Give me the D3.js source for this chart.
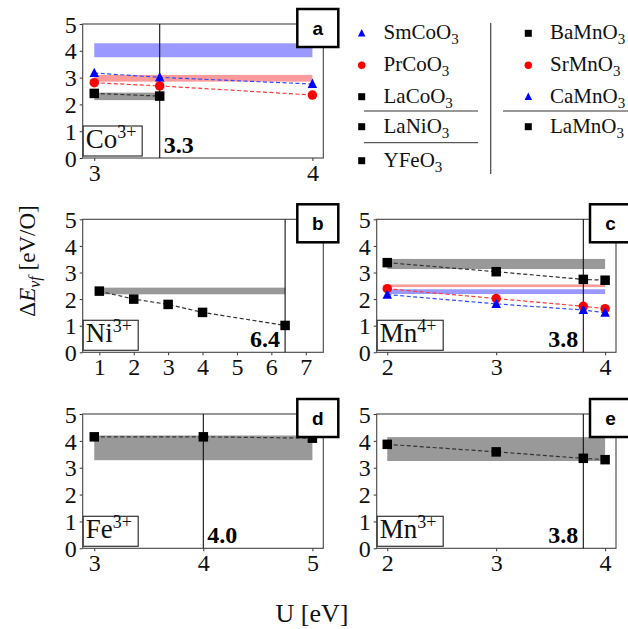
<!DOCTYPE html>
<html>
<head>
<meta charset="utf-8">
<script src="https://cdn.jsdelivr.net/npm/d3@7"></script>
<style>
  html, body { margin: 0; padding: 0; background: #fff; }
  svg { display: block; }
</style>
</head>
<body>
<svg id="chart" width="628" height="629"></svg>
<script>
// ---------------- DATA ----------------
const panelLetters = ["a", "b", "c", "d", "e"];
const ionBase = ["Co", "Ni", "Mn", "Fe", "Mn"];
const ionCharge = ["3+", "3+", "4+", "3+", "3+"];
const optimalU = [3.3, 6.4, 3.8, 4.0, 3.8];
const yTicks = [0, 1, 2, 3, 4, 5];

// panel a (Co3+)
const xTicksA = [3, 4];
const uSmCoO3 = [3, 3.3, 4];
const smCoO3 = [3.17, 3.01, 2.76];
const uPrCoO3 = [3, 3.3, 4];
const prCoO3 = [2.81, 2.69, 2.35];
const uLaCoO3 = [3, 3.3];
const laCoO3 = [2.41, 2.31];
const bandSmCoO3 = [3.76, 4.28];
const bandPrCoO3 = [2.85, 3.10];
const bandLaCoO3 = [2.16, 2.44];

// panel b (Ni3+)
const xTicksB = [1, 2, 3, 4, 5, 6, 7];
const uLaNiO3 = [1, 2, 3, 4, 6.4];
const laNiO3 = [2.30, 2.00, 1.80, 1.50, 1.01];
const bandLaNiO3 = [2.18, 2.43];

// panel c (Mn4+)
const xTicksC = [2, 3, 4];
const uMn4 = [2, 3, 3.8, 4];
const baMnO3 = [3.37, 3.03, 2.74, 2.71];
const srMnO3 = [2.39, 2.02, 1.73, 1.64];
const caMnO3 = [2.17, 1.82, 1.59, 1.49];
const bandBaMnO3 = [3.13, 3.51];
const bandSrMnO3 = [2.45, 2.55];
const bandCaMnO3 = [2.19, 2.37];

// panel d (Fe3+)
const xTicksD = [3, 4, 5];
const uYFeO3 = [3, 4, 5];
const yFeO3 = [4.15, 4.15, 4.10];
const bandYFeO3 = [3.28, 4.20];

// panel e (Mn3+)
const xTicksE = [2, 3, 4];
const uLaMnO3 = [2, 3, 3.8, 4];
const laMnO3 = [3.87, 3.59, 3.35, 3.30];
const bandLaMnO3 = [3.25, 4.14];

// legend
const legendCol1 = ["SmCoO", "PrCoO", "LaCoO", "LaNiO", "YFeO"];
const legendCol1Marker = ["tri", "circ", "sq", "sq", "sq"];
const legendCol2 = ["BaMnO", "SrMnO", "CaMnO", "LaMnO"];
const legendCol2Marker = ["sq", "circ", "tri", "sq"];

// ---------------- STYLE ----------------
const COL = { blue: "#0000ff", red: "#ff0000", black: "#000000" };
const BAND = { blue: "#9999ff", red: "#ff9a9a", black: "#999999" };
const LINE = { blue: "#2f4cff", red: "#ff3b3b", black: "#333333" };
const SERIF = "'Liberation Serif', 'Times New Roman', serif";

const svg = d3.select("#chart");

// panel geometry (frame pixel box) and x-domain of the frame
const layouts = [
  { L: 82.7, R: 323.3, T: 24, B: 158, xd: [2.947, 4.05], ticks: xTicksA },
  { L: 82.7, R: 323.3, T: 219.3, B: 352.3, xd: [0.517, 7.51], ticks: xTicksB },
  { L: 376.7, R: 616, T: 219.3, B: 352.3, xd: [1.903, 4.10], ticks: xTicksC },
  { L: 82.7, R: 323.3, T: 414, B: 548.3, xd: [2.894, 5.10], ticks: xTicksD },
  { L: 376.7, R: 616, T: 414, B: 548.3, xd: [1.903, 4.10], ticks: xTicksE }
];

const panelSeries = [
  [
    { u: uLaCoO3, v: laCoO3, band: bandLaCoO3, c: "black", m: "sq" },
    { u: uPrCoO3, v: prCoO3, band: bandPrCoO3, c: "red", m: "circ" },
    { u: uSmCoO3, v: smCoO3, band: bandSmCoO3, c: "blue", m: "tri" }
  ],
  [
    { u: uLaNiO3, v: laNiO3, band: bandLaNiO3, c: "black", m: "sq" }
  ],
  [
    { u: uMn4, v: baMnO3, band: bandBaMnO3, c: "black", m: "sq" },
    { u: uMn4, v: srMnO3, band: bandSrMnO3, c: "red", m: "circ" },
    { u: uMn4, v: caMnO3, band: bandCaMnO3, c: "blue", m: "tri" }
  ],
  [
    { u: uYFeO3, v: yFeO3, band: bandYFeO3, c: "black", m: "sq" }
  ],
  [
    { u: uLaMnO3, v: laMnO3, band: bandLaMnO3, c: "black", m: "sq" }
  ]
];

function drawMarker(g, type, x, y, color, size) {
  if (type === "sq") {
    g.append("rect").attr("x", x - size / 2).attr("y", y - size / 2)
      .attr("width", size).attr("height", size).attr("fill", color);
  } else if (type === "circ") {
    g.append("circle").attr("cx", x).attr("cy", y).attr("r", size / 2).attr("fill", color);
  } else {
    const h = size * 0.95, w = size;
    g.append("path")
      .attr("d", `M${x},${y - h * 0.6}L${x + w / 2},${y + h * 0.45}L${x - w / 2},${y + h * 0.45}Z`)
      .attr("fill", color);
  }
}

layouts.forEach((lay, i) => {
  const g = svg.append("g");
  const x = d3.scaleLinear().domain(lay.xd).range([lay.L, lay.R]);
  const y = d3.scaleLinear().domain([0, 5]).range([lay.B, lay.T]);

  // axes
  const yAxis = d3.axisLeft(y).tickValues(yTicks).tickSize(3).tickPadding(3).tickFormat(d3.format("d"));
  const gy = g.append("g").attr("transform", `translate(${lay.L},0)`).call(yAxis);
  const xAxis = d3.axisBottom(x).tickValues(lay.ticks).tickSize(3).tickPadding(3).tickFormat(d3.format("d"));
  const gx = g.append("g").attr("transform", `translate(0,${lay.B})`).call(xAxis);
  [gx, gy].forEach(a => {
    a.select(".domain").remove();
    a.selectAll("line").attr("stroke", "#333");
    a.selectAll("text").attr("font-family", SERIF).attr("font-size", 24).attr("fill", "#111");
  });
  gy.selectAll("text").attr("dy", "0.34em");

  // bands
  const series = panelSeries[i];
  series.forEach(s => {
    const u0 = d3.min(s.u), u1 = d3.max(s.u);
    g.append("rect")
      .attr("x", x(u0)).attr("width", x(u1) - x(u0))
      .attr("y", y(s.band[1])).attr("height", y(s.band[0]) - y(s.band[1]))
      .attr("fill", BAND[s.c]);
  });

  // dashed lines
  const line = d3.line().x(d => x(d[0])).y(d => y(d[1]));
  series.forEach(s => {
    g.append("path").datum(s.u.map((u, k) => [u, s.v[k]]))
      .attr("d", line).attr("fill", "none")
      .attr("stroke", LINE[s.c]).attr("stroke-width", 1.2)
      .attr("stroke-dasharray", "4,2.5");
  });

  // frame
  g.append("rect").attr("x", lay.L).attr("y", lay.T)
    .attr("width", lay.R - lay.L).attr("height", lay.B - lay.T)
    .attr("fill", "none").attr("stroke", "#444").attr("stroke-width", 1.1);

  // optimal U vertical line
  g.append("line").attr("x1", x(optimalU[i])).attr("x2", x(optimalU[i]))
    .attr("y1", lay.T).attr("y2", lay.B).attr("stroke", "#111").attr("stroke-width", 1.1);

  // markers
  series.forEach(s => {
    s.u.forEach((u, k) => {
      drawMarker(g, s.m, x(u), y(s.v[k]), COL[s.c], s.m === "sq" ? 9.5 : 9.5);
    });
  });

  // optimal U value text
  const vx = x(optimalU[i]);
  const right = (i === 0 || i === 3);
  g.append("text")
    .attr("x", right ? vx + 4 : vx - 5)
    .attr("y", lay.B - 5)
    .attr("text-anchor", right ? "start" : "end")
    .attr("font-family", SERIF).attr("font-weight", "bold").attr("font-size", 24)
    .text(optimalU[i].toFixed(1));

  // ion label box
  const boxW = [59, 55, 66, 55, 66][i];
  g.append("rect").attr("x", lay.L + 0.5).attr("y", lay.B - 32)
    .attr("width", boxW).attr("height", 30)
    .attr("fill", "#fff").attr("stroke", "#333").attr("stroke-width", 1.2);
  const t = g.append("text").attr("x", lay.L + 3).attr("y", lay.B - 10)
    .attr("font-family", SERIF).attr("font-size", 27).attr("fill", "#111");
  t.append("tspan").text(ionBase[i]);
  t.append("tspan").attr("dy", -10).attr("font-size", 18).text(ionCharge[i]);

  // panel letter box
  g.append("rect").attr("x", lay.R - 26).attr("y", lay.T - 15)
    .attr("width", 41).attr("height", 38)
    .attr("fill", "#fff").attr("stroke", "#000").attr("stroke-width", 2.5);
  g.append("text").attr("x", lay.R - 5.5).attr("y", lay.T + 11)
    .attr("text-anchor", "middle")
    .attr("font-family", "'Liberation Sans', Arial, sans-serif").attr("font-weight", "bold").attr("font-size", 19)
    .text(panelLetters[i]);
});

// ---------------- LEGEND ----------------
const lg = svg.append("g");
const rowsY = [33.3, 65.3, 96.7, 126.7, 160.7];
function legendEntry(mx, tx, yy, name, marker) {
  const c = marker === "tri" ? COL.blue : (marker === "circ" ? COL.red : COL.black);
  drawMarker(lg, marker, mx, yy, c, marker === "sq" ? 7 : 7.5);
  const t = lg.append("text").attr("x", tx).attr("y", yy + 6)
    .attr("font-family", SERIF).attr("font-size", 21).attr("fill", "#111");
  t.append("tspan").text(name);
  t.append("tspan").attr("dy", 5).attr("font-size", 15).text("3");
}
legendCol1.forEach((n, k) => legendEntry(361.7, 383.5, rowsY[k], n, legendCol1Marker[k]));
legendCol2.forEach((n, k) => legendEntry(528.3, 550, rowsY[k], n, legendCol2Marker[k]));
lg.append("line").attr("x1", 364).attr("x2", 478).attr("y1", 111).attr("y2", 111).attr("stroke", "#333").attr("stroke-width", 1);
lg.append("line").attr("x1", 364).attr("x2", 478).attr("y1", 142.7).attr("y2", 142.7).attr("stroke", "#333").attr("stroke-width", 1);
lg.append("line").attr("x1", 503).attr("x2", 628).attr("y1", 111).attr("y2", 111).attr("stroke", "#333").attr("stroke-width", 1);
lg.append("line").attr("x1", 490.7).attr("x2", 490.7).attr("y1", 23).attr("y2", 174).attr("stroke", "#444").attr("stroke-width", 1.2);

// ---------------- AXIS TITLES ----------------
svg.append("text").attr("x", 312).attr("y", 622).attr("text-anchor", "middle")
  .attr("font-family", SERIF).attr("font-size", 26).attr("fill", "#111").text("U [eV]");

const yt = svg.append("text")
  .attr("transform", "translate(35,261) rotate(-90)")
  .attr("text-anchor", "middle")
  .attr("font-family", SERIF).attr("font-size", 23).attr("fill", "#111");
yt.append("tspan").text("Δ");
yt.append("tspan").attr("font-style", "italic").text("E");
yt.append("tspan").attr("font-style", "italic").attr("font-size", 16).attr("dy", 5).text("vf");
yt.append("tspan").attr("dy", -5).text(" [eV/O]");
</script>
</body>
</html>
